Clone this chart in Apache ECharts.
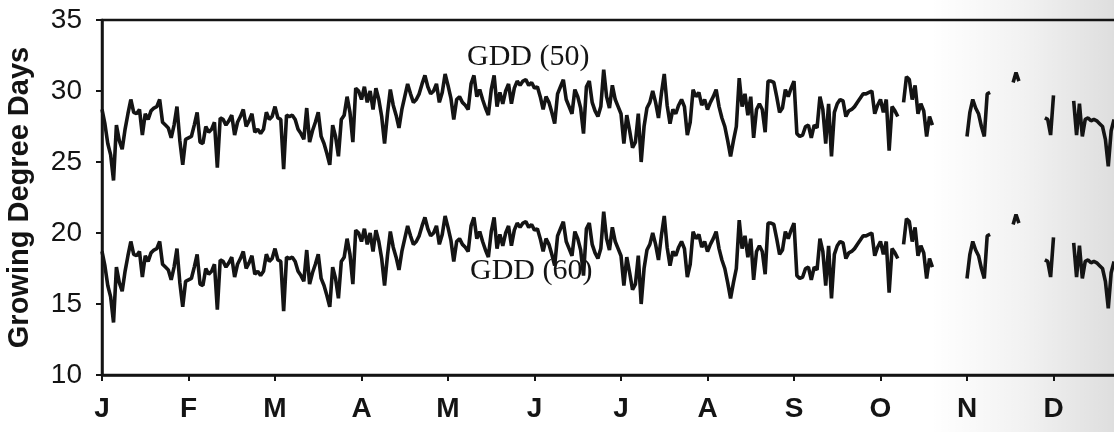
<!DOCTYPE html>
<html><head><meta charset="utf-8">
<script src="https://cdn.jsdelivr.net/npm/echarts/dist/echarts.min.js"></script>
<style>html,body{margin:0;padding:0;background:#fff;overflow:hidden}#c{width:1114px;height:432px}</style>
</head><body><div id="c"></div>
<script>
const N = null;
const monthLabels = ['J','F','M','A','M','J','J','A','S','O','N','D',''];
const yTickValues = [10, 15, 20, 25, 30, 35];
const seriesNames = ['GDD (50)', 'GDD (60)'];
// daily values, 30 days per month on the axis
const gdd50 = [
 28.7,27.7,26.3,25.5,23.7,27.6,26.5,25.9,27.3,28.4,29.4,28.5,28.4,28.7,26.9,28.4,28.0,28.6,28.8,28.9,29.4,27.8,27.6,27.4,26.7,27.6,28.9,26.5,24.8,26.6,
 26.7,26.8,27.6,28.5,26.4,26.3,27.5,27.1,27.3,27.8,24.6,28.1,28.0,27.6,27.9,28.3,26.9,27.8,28.2,28.7,27.5,27.9,28.4,27.1,27.3,27.0,27.3,28.5,28.0,28.2,
 28.9,28.1,28.0,24.5,28.3,28.2,28.3,28.0,27.3,27.0,26.6,28.8,26.4,27.2,27.8,28.5,26.8,26.3,25.6,24.8,27.6,26.8,25.4,28.0,28.3,29.6,28.5,26.4,30.2,30.0,
 29.4,30.3,29.2,30.0,28.7,30.2,29.4,28.2,26.3,28.4,30.1,29.0,28.3,27.4,28.7,29.6,30.5,29.8,29.2,29.4,29.8,30.5,31.1,30.3,29.8,30.0,30.5,29.2,29.9,31.2,
 30.4,29.5,28.0,29.4,29.6,29.2,29.0,28.7,30.5,31.1,29.6,30.1,29.4,28.8,28.3,30.1,31.1,28.9,29.9,29.1,30.0,30.5,29.1,30.2,30.7,30.4,30.7,30.8,30.4,30.6,
 30.2,30.3,29.6,28.7,29.6,29.2,28.5,27.7,29.8,30.3,30.8,29.4,28.9,28.4,30.1,29.6,28.8,27.0,30.3,30.7,29.2,28.6,28.2,28.9,31.5,29.6,28.8,30.4,29.4,28.9,
 28.4,26.3,28.3,27.2,26.0,26.4,28.4,25.0,27.5,28.8,29.2,30.0,29.2,28.1,29.8,31.2,29.0,27.7,28.7,28.4,29.0,29.4,28.9,26.9,27.8,30.1,29.6,29.9,29.0,29.4,
 28.7,29.2,29.6,30.1,28.9,28.1,27.5,26.5,25.4,26.5,27.5,30.9,28.9,29.8,28.3,29.6,26.7,28.7,29.1,28.7,27.1,30.7,30.7,30.6,29.6,28.5,28.8,30.1,29.6,30.2,
 30.7,27.0,26.8,26.9,27.5,27.6,26.7,27.6,27.4,29.6,28.7,26.3,29.1,25.4,28.5,29.1,29.4,29.3,28.2,28.6,28.7,28.9,29.2,29.5,29.8,29.8,29.9,30.0,28.4,29.0,
 29.4,28.5,29.4,25.8,28.9,28.6,28.2,N,29.2,31.0,30.8,29.4,30.4,28.4,29.1,28.6,26.8,28.2,27.6,N,N,N,N,N,N,N,N,N,N,N,
 26.8,28.5,29.4,28.8,28.4,27.5,26.8,29.8,29.9,N,N,N,N,N,N,N,30.6,31.3,30.7,N,N,N,N,N,N,N,N,28.1,28.0,26.9,
 29.7,N,N,N,N,N,N,29.3,26.9,29.1,26.8,28.0,28.1,27.9,28.0,27.9,27.7,27.5,26.6,24.7,27.2,28.0
];
const gdd60 = [
 18.7,17.7,16.3,15.5,13.7,17.6,16.5,15.9,17.3,18.4,19.4,18.5,18.4,18.7,16.9,18.4,18.0,18.6,18.8,18.9,19.4,17.8,17.6,17.4,16.7,17.6,18.9,16.5,14.8,16.6,
 16.7,16.8,17.6,18.5,16.4,16.3,17.5,17.1,17.3,17.8,14.6,18.1,18.0,17.6,17.9,18.3,16.9,17.8,18.2,18.7,17.5,17.9,18.4,17.1,17.3,17.0,17.3,18.5,18.0,18.2,
 18.9,18.1,18.0,14.5,18.3,18.2,18.3,18.0,17.3,17.0,16.6,18.8,16.4,17.2,17.8,18.5,16.8,16.3,15.6,14.8,17.6,16.8,15.4,18.0,18.3,19.6,18.5,16.4,20.2,20.0,
 19.4,20.3,19.2,20.0,18.7,20.2,19.4,18.2,16.3,18.4,20.1,19.0,18.3,17.4,18.7,19.6,20.5,19.8,19.2,19.4,19.8,20.5,21.1,20.3,19.8,20.0,20.5,19.2,19.9,21.2,
 20.4,19.5,18.0,19.4,19.6,19.2,19.0,18.7,20.5,21.1,19.6,20.1,19.4,18.8,18.3,20.1,21.1,18.9,19.9,19.1,20.0,20.5,19.1,20.2,20.7,20.4,20.7,20.8,20.4,20.6,
 20.2,20.3,19.6,18.7,19.6,19.2,18.5,17.7,19.8,20.3,20.8,19.4,18.9,18.4,20.1,19.6,18.8,17.0,20.3,20.7,19.2,18.6,18.2,18.9,21.5,19.6,18.8,20.4,19.4,18.9,
 18.4,16.3,18.3,17.2,16.0,16.4,18.4,15.0,17.5,18.8,19.2,20.0,19.2,18.1,19.8,21.2,19.0,17.7,18.7,18.4,19.0,19.4,18.9,16.9,17.8,20.1,19.6,19.9,19.0,19.4,
 18.7,19.2,19.6,20.1,18.9,18.1,17.5,16.5,15.4,16.5,17.5,20.9,18.9,19.8,18.3,19.6,16.7,18.7,19.1,18.7,17.1,20.7,20.7,20.6,19.6,18.5,18.8,20.1,19.6,20.2,
 20.7,17.0,16.8,16.9,17.5,17.6,16.7,17.6,17.4,19.6,18.7,16.3,19.1,15.4,18.5,19.1,19.4,19.3,18.2,18.6,18.7,18.9,19.2,19.5,19.8,19.8,19.9,20.0,18.4,19.0,
 19.4,18.5,19.4,15.8,18.9,18.6,18.2,N,19.2,21.0,20.8,19.4,20.4,18.4,19.1,18.6,16.8,18.2,17.6,N,N,N,N,N,N,N,N,N,N,N,
 16.8,18.5,19.4,18.8,18.4,17.5,16.8,19.8,19.9,N,N,N,N,N,N,N,20.6,21.3,20.7,N,N,N,N,N,N,N,N,18.1,18.0,16.9,
 19.7,N,N,N,N,N,N,19.3,16.9,19.1,16.8,18.0,18.1,17.9,18.0,17.9,17.7,17.5,16.6,14.7,17.2,18.0
];

const ink = '#141414';
const toPairs = arr => arr.map((v, i) => [i, v]);
const chart = echarts.init(document.getElementById('c'));
chart.setOption({
  animation: false,
  backgroundColor: '#fff',
  grid: { left: 102, top: 20, width: 1038, height: 355, outerBoundsMode: 'none', containLabel: false, show: true, borderColor: ink, borderWidth: 2.5, backgroundColor: 'transparent' },
  xAxis: {
    type: 'value', min: 0, max: 360, interval: 30,
    axisLine: { show: true, onZero: false, lineStyle: { color: ink, width: 2.5 } },
    axisTick: { show: true, length: 6, lineStyle: { color: ink, width: 2 } },
    axisLabel: { formatter: v => monthLabels[Math.round(v / 30)], color: ink, fontFamily: '"Liberation Sans", Arial, sans-serif', fontWeight: 'bold', fontSize: 28, margin: 20 },
    splitLine: { show: false }
  },
  yAxis: {
    type: 'value', min: yTickValues[0], max: yTickValues[yTickValues.length - 1], interval: 5,
    name: 'Growing Degree Days', nameLocation: 'middle', nameRotate: 90, nameGap: 68,
    nameTextStyle: { color: ink, fontFamily: '"Liberation Sans", Arial, sans-serif', fontWeight: 'bold', fontSize: 29 },
    axisLine: { show: true, lineStyle: { color: ink, width: 2.5 } },
    axisTick: { show: true, length: 6, lineStyle: { color: ink, width: 2 } },
    axisLabel: { color: ink, fontFamily: '"Liberation Sans", Arial, sans-serif', fontSize: 28, margin: 20 },
    splitLine: { show: false }
  },
  series: [
    { name: seriesNames[0], type: 'line', data: toPairs(gdd50), showSymbol: false, connectNulls: false, lineStyle: { color: ink, width: 3.6 }, itemStyle: { color: ink } },
    { name: seriesNames[1], type: 'line', data: toPairs(gdd60), showSymbol: false, connectNulls: false, lineStyle: { color: ink, width: 3.6 }, itemStyle: { color: ink } }
  ],
  graphic: [
    { type: 'rect', left: 930, top: 0, z: -10, silent: true,
      shape: { width: 184, height: 432 },
      style: { fill: { type: 'linear', x: 0, y: 0, x2: 1, y2: 0, colorStops: [
        { offset: 0, color: 'rgba(0,0,0,0)' }, { offset: 0.5, color: 'rgba(0,0,0,0.05)' }, { offset: 1, color: 'rgba(0,0,0,0.13)' } ] } } },
    { type: 'text', left: 467, top: 42, style: { text: seriesNames[0], fill: ink, font: '30px "Liberation Serif", "Times New Roman", serif' } },
    { type: 'text', left: 470, top: 256, style: { text: seriesNames[1], fill: ink, font: '30px "Liberation Serif", "Times New Roman", serif' } }
  ]
});
</script>
</body></html>
